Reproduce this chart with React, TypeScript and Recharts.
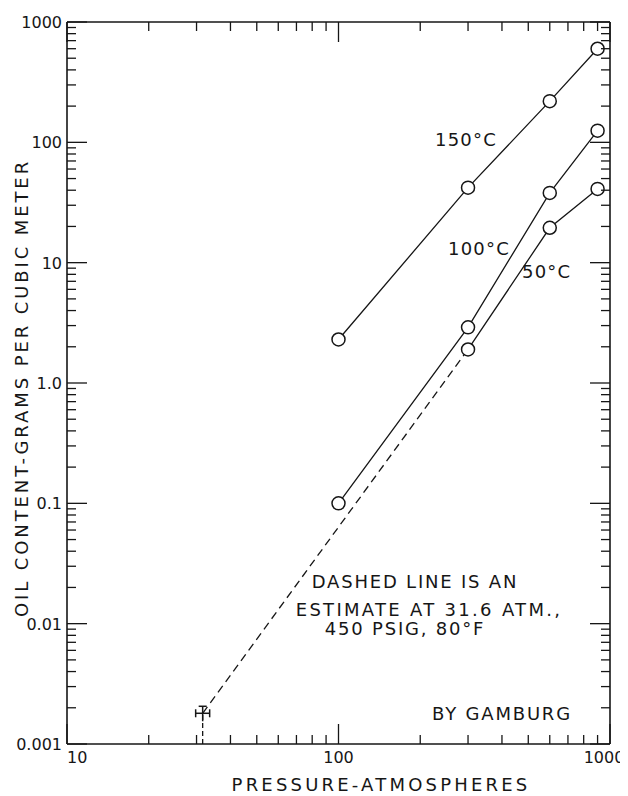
import React from 'react';
import { ComposedChart, Line, XAxis, YAxis, ReferenceLine } from 'recharts';

// pressure (atm) of the measured points
const pressures = [100, 300, 600, 900];
// oil content, g per m3
const oil150 = [2.3, 42, 220, 600];
const oil100 = [0.1, 2.9, 38, 125];
const oil50 = [null, 1.9, 19.5, 41];
// dashed estimate from 31.6 atm to the 50 C point
const estPressures = [31.6, 300];
const estOil = [0.0018, 1.9];

const xTicks = [10, 20, 30, 40, 50, 60, 70, 80, 90, 100, 200, 300, 400, 500, 600, 700, 800, 900, 1000];
const xMajor = [10, 100, 1000];
const xMajorLabels = ['10', '100', '1000'];
const yDecades = [0.001, 0.01, 0.1, 1, 10, 100];
const yTicks = [...yDecades.flatMap(d => [1, 2, 3, 4, 5, 6, 7, 8, 9].map(m => d * m)), 1000];
const yMajor = [0.001, 0.01, 0.1, 1, 10, 100, 1000];
const yMajorLabels = ['0.001', '0.01', '0.1', '1.0', '10', '100', '1000'];

const INK = '#161616';
const FONT = 'DejaVu Sans';

const toRows = (xs: number[], ys: (number | null)[]) => xs.map((p, i) => ({ p, v: ys[i] }));
const majorIndex = (list: number[], v: number) => list.findIndex(m => Math.abs(v / m - 1) < 1e-6);

const XTick = (props: any) => {
  const { x, y, payload, side } = props;
  const idx = majorIndex(xMajor, payload.value);
  const len = idx >= 0 ? 20 : 9;
  const dir = side === 'bottom' ? -1 : 1;
  let label = null;
  if (side === 'bottom' && idx >= 0) {
    const anchor = idx === 0 ? 'start' : 'middle';
    const dx = idx === 2 ? -6 : 0;
    label = (
      <text x={x + dx} y={y + 19} textAnchor={anchor} fontSize={16} fill={INK} fontFamily={FONT}>
        {xMajorLabels[idx]}
      </text>
    );
  }
  return (
    <g>
      <line x1={x} y1={y} x2={x} y2={y + dir * len} stroke={INK} strokeWidth={1.3} />
      {label}
    </g>
  );
};

const YTick = (props: any) => {
  const { x, y, payload, side } = props;
  const idx = majorIndex(yMajor, payload.value);
  const len = idx >= 0 ? 20 : 9;
  const dir = side === 'left' ? 1 : -1;
  return (
    <g>
      <line x1={x} y1={y} x2={x + dir * len} y2={y} stroke={INK} strokeWidth={1.3} />
      {side === 'left' && idx >= 0 && (
        <text x={x - 5} y={y + 6} textAnchor="end" fontSize={16} fill={INK} fontFamily={FONT}>
          {yMajorLabels[idx]}
        </text>
      )}
    </g>
  );
};

const EstimateMark = (props: any) => {
  const { cx, cy, index } = props;
  if (index !== 0) return <g key={`e-${index}`} />;
  return (
    <g key="cross" stroke={INK} strokeWidth={1.5}>
      <line x1={cx - 7} y1={cy} x2={cx + 7} y2={cy} />
      <line x1={cx - 7} y1={cy - 4} x2={cx - 7} y2={cy + 4} />
      <line x1={cx + 7} y1={cy - 4} x2={cx + 7} y2={cy + 4} />
      <line x1={cx} y1={cy - 7} x2={cx} y2={cy + 8} />
      <line x1={cx - 4} y1={cy - 7} x2={cx + 4} y2={cy - 7} />
    </g>
  );
};

const Note = ({ x, y, children, anchor = 'middle', spacing = 1.8 }: any) => (
  <text x={x} y={y} textAnchor={anchor} fontSize={18} letterSpacing={spacing} fill={INK} fontFamily={FONT}>
    {children}
  </text>
);

const circle = { r: 6.5, fill: '#fff', stroke: INK, strokeWidth: 1.5 };

const axisCommon = {
  type: 'number' as const,
  scale: 'log' as const,
  allowDataOverflow: true,
  interval: 0,
  tickSize: 0,
  tickMargin: 0,
  tickLine: false,
  axisLine: { stroke: INK, strokeWidth: 1.6 },
};

export default function App() {
  return (
    <ComposedChart
      width={620}
      height={788}
      margin={{ top: 13, right: 17, bottom: 51, left: 58 }}
      style={{ fontFamily: FONT }}
    >
      <XAxis
        {...axisCommon}
        xAxisId="bottom"
        dataKey="p"
        domain={[10, 1000]}
        ticks={xTicks}
        height={1}
        tick={(p: any) => <XTick {...p} side="bottom" />}
      />
      <XAxis
        {...axisCommon}
        xAxisId="top"
        orientation="top"
        dataKey="p"
        domain={[10, 1000]}
        ticks={xTicks}
        height={1}
        tick={(p: any) => <XTick {...p} side="top" />}
      />
      <YAxis
        {...axisCommon}
        yAxisId="left"
        domain={[0.001, 1000]}
        ticks={yTicks}
        width={1}
        tick={(p: any) => <YTick {...p} side="left" />}
      />
      <YAxis
        {...axisCommon}
        yAxisId="right"
        orientation="right"
        domain={[0.001, 1000]}
        ticks={yTicks}
        width={1}
        tick={(p: any) => <YTick {...p} side="right" />}
      />

      <ReferenceLine
        xAxisId="bottom"
        yAxisId="left"
        segment={[{ x: estPressures[0], y: 0.001 }, { x: estPressures[0], y: estOil[0] }]}
        stroke={INK}
        strokeWidth={1.3}
        strokeDasharray="5 3"
        ifOverflow="visible"
      />
      <Line
        xAxisId="bottom"
        yAxisId="left"
        data={toRows(estPressures, estOil)}
        dataKey="v"
        type="linear"
        stroke={INK}
        strokeWidth={1.3}
        strokeDasharray="8 5"
        dot={(p: any) => <EstimateMark {...p} />}
        activeDot={false}
        isAnimationActive={false}
      />
      <Line
        xAxisId="bottom"
        yAxisId="left"
        data={toRows(pressures, oil150)}
        dataKey="v"
        type="linear"
        stroke={INK}
        strokeWidth={1.3}
        dot={circle}
        activeDot={false}
        isAnimationActive={false}
      />
      <Line
        xAxisId="bottom"
        yAxisId="left"
        data={toRows(pressures, oil100)}
        dataKey="v"
        type="linear"
        stroke={INK}
        strokeWidth={1.3}
        dot={circle}
        activeDot={false}
        isAnimationActive={false}
      />
      <Line
        xAxisId="bottom"
        yAxisId="left"
        data={toRows(pressures, oil50)}
        dataKey="v"
        type="linear"
        stroke={INK}
        strokeWidth={1.3}
        dot={circle}
        activeDot={false}
        isAnimationActive={false}
      />

      <Note x={427} y={138} anchor="start" spacing={1.2}>150°C</Note>
      <Note x={440} y={247} anchor="start" spacing={1.2}>100°C</Note>
      <Note x={514} y={270} anchor="start" spacing={1.2}>50°C</Note>
      <Note x={407} y={580}>DASHED LINE IS AN</Note>
      <Note x={421} y={608} spacing={2.3}>ESTIMATE AT 31.6 ATM.,</Note>
      <Note x={397} y={627}>450 PSIG, 80°F</Note>
      <Note x={494} y={712}>BY GAMBURG</Note>

      <text x={373} y={783} textAnchor="middle" fontSize={18} letterSpacing={3.2} fill={INK} fontFamily={FONT}>
        PRESSURE-ATMOSPHERES
      </text>
      <text
        x={13}
        y={380}
        transform="rotate(-90 13 380)"
        textAnchor="middle"
        dominantBaseline="central"
        fontSize={18}
        letterSpacing={2.9}
        fill={INK}
        fontFamily={FONT}
      >
        OIL CONTENT-GRAMS PER CUBIC METER
      </text>
    </ComposedChart>
  );
}
